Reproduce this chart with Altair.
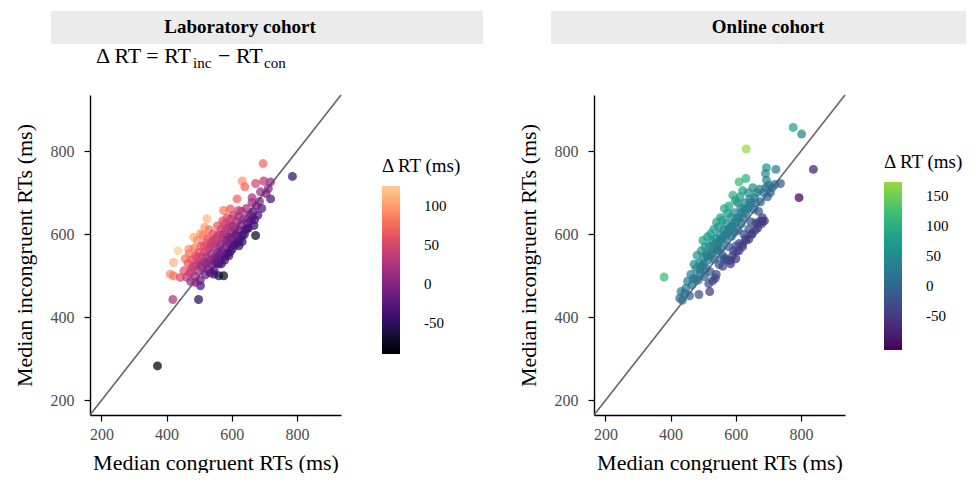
import altair as alt
import pandas as pd

FONT = "Liberation Serif"

# ---- Laboratory cohort: median congruent / incongruent RTs (ms) ----
lab_con = [696, 786, 632, 640, 673, 698, 719, 688, 719, 616, 575, 596, 621, 662, 662, 668, 673, 647, 632,
           524, 517, 483, 504, 435, 468, 421, 411, 421, 442, 419, 498, 504, 488, 545, 560, 575, 591, 622, 372,
           453, 457, 461, 466, 469, 472, 474, 478, 481, 484, 486, 489, 491, 494, 496, 499, 501, 503, 506, 508,
           510, 512, 514, 517, 519, 521, 523, 526, 528, 530, 532, 534, 536, 538, 540, 542, 544, 546, 548, 550,
           552, 554, 556, 558, 560, 562, 564, 566, 568, 570, 572, 574, 576, 578, 580, 582, 584, 586, 588, 590,
           592, 594, 596, 598, 600, 602, 605, 607, 609, 611, 614, 616, 618, 621, 623, 625, 628, 630, 633, 636,
           639, 642, 645, 648, 651, 655, 658, 662, 666, 670, 675, 680, 685, 692, 705, 712,
           515, 527, 545, 557, 567, 579, 587, 597, 475, 495, 505, 525, 535, 555, 565, 575, 585, 595, 603, 612]
lab_inc = [770, 739, 728, 714, 722, 728, 726, 702, 685, 685, 657, 661, 657, 677, 641, 621, 597, 613, 582,
           637, 617, 593, 601, 560, 564, 532, 504, 500, 496, 443, 443, 476, 484, 504, 500, 500, 548, 572, 283,
           512, 541, 497, 530, 553, 507, 486, 538, 521, 566, 499, 547, 528, 585, 512, 556, 534, 489, 571, 546,
           519, 597, 532, 558, 502, 579, 545, 516, 564, 611, 537, 507, 583, 552, 527, 601, 569, 512, 545, 590,
           531, 575, 620, 556, 528, 541, 598, 577, 529, 560, 632, 588, 546, 538, 609, 571, 552, 640, 594, 555,
           577, 621, 559, 606, 588, 565, 645, 575, 612, 575, 630, 596, 581, 643, 609, 588, 622, 655, 598, 636,
           600, 611, 662, 627, 615, 648, 632, 688, 654, 635, 668, 646, 679, 662, 698, 710,
           572, 590, 585, 598, 612, 625, 615, 636, 515, 545, 525, 530, 572, 538, 555, 600, 585, 592, 620, 598]

# ---- Online cohort ----
onl_con = [380, 632, 776, 802, 838, 794, 694, 691, 694, 723, 610, 631, 720, 737,
           428, 436, 432, 444, 452, 447, 458, 462, 466, 472, 475, 478, 481, 484, 487, 489, 492, 494, 497, 499,
           502, 504, 506, 508, 510, 513, 515, 517, 519, 521, 523, 525, 527, 529, 531, 533, 535, 537, 539, 541,
           543, 545, 547, 549, 551, 553, 555, 557, 559, 561, 563, 565, 567, 569, 571, 573, 575, 577, 579, 581,
           583, 585, 587, 589, 591, 593, 595, 597, 599, 601, 603, 605, 607, 609, 611, 613, 615, 617, 619, 621,
           623, 625, 628, 630, 632, 635, 638, 640, 643, 646, 649, 652, 655, 658, 661, 664, 667, 670, 673, 676,
           679, 682, 685, 688, 692, 697, 701, 706, 712, 668, 650, 630, 610, 590, 560, 540, 520, 600, 640, 660,
           675, 681, 600, 621, 584, 574, 563,
           512, 534, 556, 578, 598, 618, 642, 470, 490, 545, 566, 586, 606, 626, 646, 500, 522, 660, 548, 572]
onl_inc = [497, 805, 857, 841, 756, 688, 760, 746, 730, 756, 726, 734, 720, 722,
           446, 441, 462, 458, 487, 470, 452, 503, 478, 528, 495, 517, 549, 489, 455, 531, 506, 560, 523, 585,
           545, 498, 570, 518, 553, 594, 537, 481, 571, 510, 601, 553, 583, 488, 566, 612, 540, 494, 590, 629,
           560, 575, 617, 527, 598, 640, 566, 584, 633, 548, 610, 662, 588, 541, 625, 600, 650, 570, 668, 612,
           537, 640, 595, 620, 694, 560, 652, 605, 682, 628, 560, 676, 610, 640, 578, 690, 662, 625, 575, 705,
           640, 600, 675, 650, 585, 660, 700, 612, 685, 630, 600, 712, 660, 688, 627, 700, 615, 655, 708, 678,
           625, 640, 700, 632, 712, 690, 718, 700, 712, 626, 601, 590, 560, 548, 523, 503, 462, 572, 588, 610,
           632, 631, 541, 570, 529, 537, 541,
           548, 575, 590, 612, 630, 652, 668, 492, 515, 562, 597, 618, 640, 660, 676, 528, 548, 676, 582, 604]

diag = [165, 935]
ticks_xy = [200, 400, 600, 800]
lab_legend_ticks = [-50, 0, 50, 100]
onl_legend_ticks = [-50, 0, 50, 100, 150]

W, H = 251, 320


def axis(title, tick, lpad, tpad):
    return alt.Axis(values=ticks_xy, grid=False, title=title,
                    domainColor="black", domainWidth=1.4,
                    tickColor="black", tickWidth=1.2, tickSize=tick,
                    labelFont=FONT, labelFontSize=16, labelColor="#4d4d4d", labelPadding=lpad,
                    titleFont=FONT, titleFontSize=22, titleFontWeight="normal",
                    titleColor="black", titlePadding=tpad)


def panel(con, inc, scheme, extent, legend_ticks, header, header_x, strip_x, strip_x2,
          leg_x, leg_y, title_dx, subtitle):
    df = pd.DataFrame({"con": con, "inc": inc})
    df["delta"] = df["inc"] - df["con"]
    sc = alt.Scale(domain=diag, nice=False, zero=False)
    x = alt.X("con:Q", scale=sc, axis=axis("Median congruent RTs (ms)", 6, 5, 10))
    y = alt.Y("inc:Q", scale=sc, axis=axis("Median incongruent RTs (ms)", 6, 10, 14))

    pts = alt.Chart(df).mark_circle(size=80, fillOpacity=0.72).encode(
        x=x, y=y,
        color=alt.Color("delta:Q",
                        scale=alt.Scale(scheme=alt.SchemeParams(name=scheme, extent=extent)),
                        legend=alt.Legend(orient="none", legendX=leg_x, legendY=leg_y,
                                          title="Δ RT (ms)", titleFont=FONT, titleFontSize=19,
                                          titleFontWeight="normal", titleColor="black",
                                          titlePadding=10, titleAnchor="start",
                                          gradientLength=168, gradientThickness=18,
                                          values=legend_ticks, labelExpr="'' + datum.value",
                                          labelFont=FONT, labelFontSize=15, labelColor="black",
                                          labelAlign="center", labelOffset=24,
                                          direction="vertical")),
    )
    line = alt.Chart(pd.DataFrame({"con": diag, "inc": diag})).mark_line(
        color="#666666", strokeWidth=1.6).encode(x=x, y=y)

    one = alt.Data(values=[{"k": 1}])
    strip = alt.Chart(one).mark_rect(color="#EBEBEB").encode(
        x=alt.value(strip_x), x2=alt.value(strip_x2), y=alt.value(-84), y2=alt.value(-51))
    head = alt.Chart(one).mark_text(text=header, font=FONT, fontSize=19, fontWeight="bold",
                                    color="black", align="center", baseline="middle").encode(
        x=alt.value(header_x), y=alt.value(-68))
    layers = [strip, head, line, pts]
    if subtitle:
        pieces = [("Δ RT = RT", 6, -32, 22), ("inc", 103, -27, 15),
                  ("− RT", 128, -32, 22), ("con", 174, -27, 15)]
        for txt, px, py, fs in pieces:
            layers.append(alt.Chart(one).mark_text(text=txt, font=FONT, fontSize=fs, color="black",
                                                   align="left", baseline="alphabetic").encode(
                x=alt.value(px), y=alt.value(py)))
    return alt.layer(*layers).properties(width=W, height=H)


left = panel(lab_con, lab_inc, "magma", [0, 0.9], lab_legend_ticks,
             "Laboratory cohort", 150, -39, 393, 292, 62, 0, True)
right = panel(onl_con, onl_inc, "viridis", [0, 0.85], onl_legend_ticks,
              "Online cohort", 174, -43, 372, 290, 58, 0, False)

chart = alt.hconcat(left, right, spacing=34).resolve_scale(color="independent").properties(
    padding={"left": 5, "top": 3, "right": 0, "bottom": 0}
).configure_view(stroke=None)

chart.save("out.html", embed_options={"renderer": "svg", "actions": False})
